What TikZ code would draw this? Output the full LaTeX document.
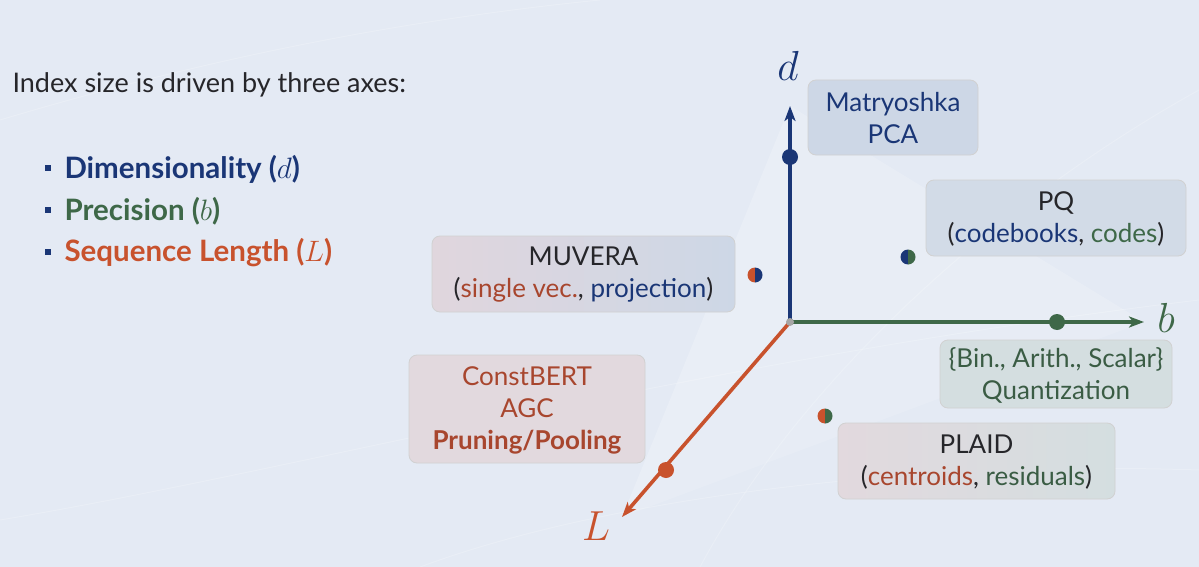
\RequirePackage{fix-cm}
\documentclass[tikz,border=0pt]{standalone}
\usepackage{fontspec}
\setmainfont{Lato}
\usetikzlibrary{arrows.meta}
\definecolor{bg}{RGB}{228,234,244}
\definecolor{navy}{RGB}{26,54,118}
\definecolor{dgreen}{RGB}{62,104,72}
\definecolor{orng}{RGB}{200,82,45}
\definecolor{brwn}{RGB}{168,70,46}
\definecolor{txt}{RGB}{38,38,42}
\definecolor{qgreen}{RGB}{58,92,68}
\definecolor{fblue}{RGB}{205,215,230}
\definecolor{fblue2}{RGB}{210,219,231}
\definecolor{fpink}{RGB}{226,217,222}
\definecolor{fpink2}{RGB}{224,214,221}
\definecolor{fgreen}{RGB}{212,222,224}
\begin{document}
\tikzset{
  boxbase/.style={rounded corners=8pt, draw=black!18, line width=0.8pt, align=center, inner sep=0pt},
  boxtxt/.style={align=center, font=\fontsize{26}{32}\selectfont},
  axisline/.style={line width=3.6pt, -{Stealth[length=15pt,width=11pt,inset=4pt]}},
  axdot/.style={circle, inner sep=0pt, minimum size=16pt},
  bulsq/.style={rectangle, fill=navy, inner sep=0pt, minimum size=6.5pt},
  itemtxt/.style={anchor=west, font=\fontsize{29.5}{32}\selectfont\bfseries},
  axlabel/.style={font=\fontsize{42}{42}\selectfont},
}
\begin{tikzpicture}[x=1pt,y=-1pt]
\fill[bg] (0,0) rectangle (1199,567);
\useasboundingbox (0,0) rectangle (1199,567);
% faint background curves
\begin{scope}[white, opacity=0.2, line width=1pt]
\draw (0,520) .. controls (300,470) and (700,360) .. (1199,300);
\draw (0,120) .. controls (200,60) and (400,20) .. (600,0);
\draw (420,567) .. controls (600,500) and (900,460) .. (1199,470);
\draw (700,567) .. controls (800,380) and (1000,200) .. (1199,90);
\end{scope}
% coordinates
\coordinate (O) at (790,322);
\coordinate (dtip) at (790,106);
\coordinate (btip) at (1144,322);
\coordinate (Ltip) at (622,517);
% faint planes
\fill[white, opacity=0.18] (O) -- (dtip) -- (btip) -- cycle;
\fill[white, opacity=0.22] (O) -- (dtip) -- (Ltip) -- cycle;
\fill[white, opacity=0.12] (O) -- (btip) -- (Ltip) -- cycle;

% left text
\node[anchor=west, text=txt, font=\fontsize{27}{32}\selectfont] (title) at (9,85) {Index size is driven by three axes:};
\node[bulsq] (b1) at (48,168) {};
\node[bulsq] (b2) at (48,210) {};
\node[bulsq] (b3) at (48,252) {};
\node[itemtxt, text=navy] (i1) at (61,169) {Dimensionality ($d$)};
\node[itemtxt, text=dgreen] (i2) at (61,211) {Precision ($b$)};
\node[itemtxt, text=orng] (i3) at (61,253) {Sequence Length ($L$)};

% boxes
\node[boxbase, fill=fblue, minimum width=170pt, minimum height=75pt] (mat) at (893,117.5) {};
\node[boxtxt, text=navy] (matt) at (893,118) {Matryoshka\\PCA};

\node[boxbase, fill=fblue2, minimum width=260pt, minimum height=76pt] (pq) at (1056,218) {};
\node[boxtxt, text=txt] (pqt) at (1056,219) {PQ\\(\textcolor{navy}{codebooks}, \textcolor{dgreen}{codes})};

\node[boxbase, left color=fpink2, right color=fblue, minimum width=303pt, minimum height=76pt] (muv) at (583.5,274) {};
\node[boxtxt, text=txt] (muvt) at (583.5,275) {MUVERA\\(\textcolor{brwn}{single vec.}, \textcolor{navy}{projection})};

\node[boxbase, fill=fpink, minimum width=236pt, minimum height=108pt] (cb) at (527,409) {};
\node[boxtxt, text=brwn] (cbt) at (527,410) {ConstBERT\\AGC\\\textbf{Pruning/Pooling}};

\node[boxbase, fill=fgreen, minimum width=232pt, minimum height=68pt] (qz) at (1056,374) {};
\node[boxtxt, text=qgreen] (qzt) at (1056,375) {\{Bin., Arith., Scalar\}\\Quantization};

\node[boxbase, left color=fpink, right color=fgreen, minimum width=277pt, minimum height=76pt] (plaid) at (976.5,461) {};
\node[boxtxt, text=txt] (plaidt) at (976.5,462) {PLAID\\(\textcolor{brwn}{centroids}, \textcolor{qgreen}{residuals})};

% axes
\draw[axisline, navy] (O) -- (dtip);
\draw[axisline, dgreen] (O) -- (btip);
\draw[axisline, orng] (O) -- (Ltip);
\fill[gray!70] (O) circle (4pt);

% axis dots
\node[axdot, fill=navy] (dd) at (790,157) {};
\node[axdot, fill=dgreen] (bd) at (1057,322) {};
\node[axdot, fill=orng] (Ld) at (666,470) {};

% axis labels
\node[axlabel, text=navy] (dl) at (788,66) {$d$};
\node[axlabel, text=dgreen] (bl) at (1166,318) {$b$};
\node[axlabel, text=orng] (Ll) at (596,526) {$L$};

% half dots
\coordinate (hm) at (755,275);
\coordinate (hp) at (908,257);
\coordinate (hl) at (825,416);
\foreach \c/\lc/\rc in {hm/orng/navy, hp/navy/dgreen, hl/orng/dgreen}{
  \begin{scope}
    \clip (\c) ++(-9,-9) rectangle ++(9,18);
    \fill[\lc] (\c) circle (7.5);
  \end{scope}
  \begin{scope}
    \clip (\c) ++(0,-9) rectangle ++(9,18);
    \fill[\rc] (\c) circle (7.5);
  \end{scope}
}
\end{tikzpicture}
\end{document}
